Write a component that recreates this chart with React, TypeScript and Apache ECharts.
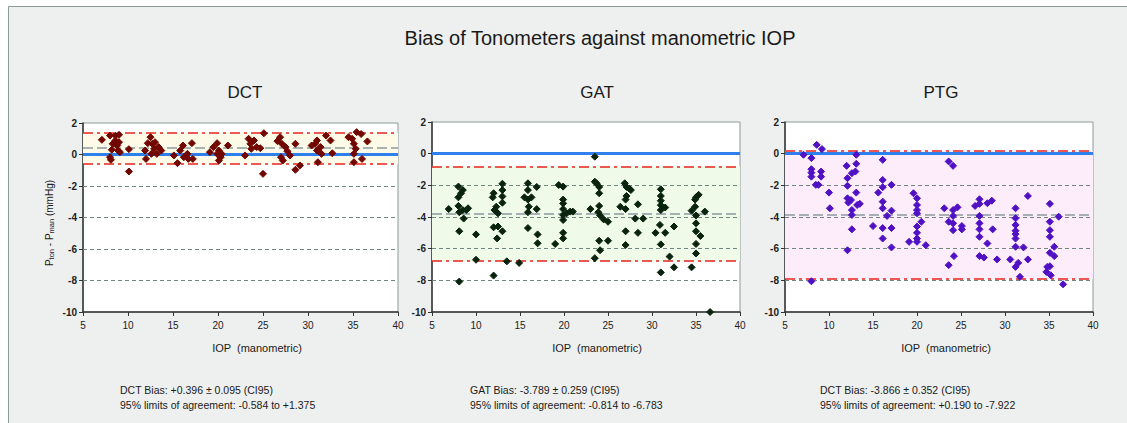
import React, { useEffect, useRef } from "react";
import * as echarts from "echarts";

const panelTitles = ["DCT", "GAT", "PTG"];
const xTicks = { min: 5, max: 40, interval: 5 };
const yTicks = { min: -10, max: 2, interval: 2 };
const gridLevels = [-2, -4, -6, -8];

// [bias, upper LOA, lower LOA]
const dctStats = [0.396, 1.375, -0.584];
const gatStats = [-3.789, -0.814, -6.783];
const ptgStats = [-3.866, 0.19, -7.922];

const dctPoints: [number, number][] = [
  [7.1, 0.93], [8.0, 1.2], [8.6, 1.2], [9.0, 1.25], [8.0, -0.17], [8.1, -0.34], [8.3, 0.68], [8.6, 0.89],
  [8.8, 0.57], [8.9, 0.25], [9.1, 0.15], [8.2, 0.3], [9.0, 0.78], [10.1, 0.34], [10.1, -1.08],
  [11.9, 0.25], [12.0, -0.28], [12.2, 0.72], [12.5, 1.1], [12.7, 0.68], [12.9, 0.36], [13.0, 0.78],
  [13.2, 0.04], [13.4, 0.47], [13.7, 0.25], [12.6, 0.04], [15.1, -0.06], [15.5, -0.55], [15.8, 0.25],
  [16.1, 0.57], [16.2, -0.17], [16.6, 0.04], [16.7, -0.28], [17.1, 0.72], [17.2, -0.28],
  [19.1, 0.15], [19.5, 0.47], [19.9, 0.72], [20.1, 0.25], [20.1, -0.38], [20.3, -0.17], [20.4, 0.04],
  [21.1, 0.57], [19.9, 0.04], [23.0, -0.06], [23.4, 1.0], [23.6, 0.68], [23.7, 0.36], [24.0, 0.89],
  [24.3, 0.47], [24.7, 0.4], [25.1, 1.35], [25.0, -1.23], [26.6, 0.85], [26.9, 1.1], [27.1, 0.68],
  [27.0, -0.17], [27.2, -0.38], [27.5, 0.47], [27.7, 0.21], [28.0, -0.06], [28.6, 0.68], [28.6, -0.97],
  [29.1, -0.7], [30.4, 0.57], [30.8, 0.68], [31.0, 0.89], [31.0, 0.25], [31.1, -0.49], [31.4, 0.47],
  [31.5, 0.04], [32.0, 1.2], [32.5, 0.89], [32.7, 0.08], [34.5, 1.1], [34.9, 1.0], [35.1, 0.68],
  [35.1, 0.04], [35.1, -0.49], [35.3, 0.36], [35.4, 1.42], [35.9, 1.3], [36.0, -0.28], [36.6, 0.83],
];

const gatPoints: [number, number][] = [
  [6.9, -3.5], [8.0, -2.08], [8.0, -2.76], [8.0, -3.3], [8.1, -4.9], [8.1, -3.7], [8.3, -2.5], [8.5, -2.3],
  [8.5, -3.56], [8.6, -4.1], [8.9, -3.56], [9.1, -3.45], [8.1, -8.08], [10.0, -5.1], [10.0, -6.7],
  [12.0, -2.5], [11.9, -2.76], [12.1, -3.56], [12.0, -4.65], [12.0, -7.7], [12.3, -3.35], [12.5, -3.77],
  [12.4, -5.35], [12.5, -4.6], [13.0, -4.9], [13.0, -1.9], [13.0, -2.3], [13.0, -2.7], [13.0, -3.1],
  [13.5, -6.8], [14.9, -6.9], [15.9, -1.87], [15.9, -2.3], [15.5, -2.76], [15.9, -2.9], [16.3, -2.76],
  [16.0, -3.35], [15.9, -3.7], [15.9, -4.7], [16.9, -2.1], [16.9, -3.5], [17.0, -5.1], [17.0, -5.66],
  [19.0, -5.7], [19.4, -1.98], [19.9, -2.08], [19.9, -2.9], [19.9, -3.14], [19.9, -3.5], [19.9, -3.87],
  [19.9, -4.19], [19.9, -5.0], [19.9, -5.35], [20.3, -3.77], [20.7, -3.66], [21.0, -3.66],
  [23.0, -3.5], [23.5, -0.19], [23.5, -1.77], [23.7, -1.87], [24.0, -2.1], [24.0, -2.5], [24.0, -3.3],
  [23.9, -3.7], [24.1, -3.9], [24.0, -5.5], [24.1, -6.1], [23.5, -6.6], [24.5, -4.15], [25.0, -4.3],
  [25.0, -5.5], [26.4, -3.35], [26.9, -1.87], [27.1, -2.1], [27.1, -2.67], [27.0, -2.9], [27.0, -3.5],
  [27.0, -4.9], [27.0, -5.77], [27.4, -2.2], [27.6, -2.3], [28.1, -4.1], [28.4, -3.2], [28.4, -5.0],
  [29.0, -4.1], [30.4, -5.0], [31.0, -2.25], [31.0, -2.67], [31.0, -2.97], [31.0, -3.25], [31.0, -3.56],
  [30.9, -4.5], [31.0, -5.73], [31.0, -7.5], [31.5, -3.4], [31.5, -5.0], [32.0, -6.5], [32.5, -4.6],
  [32.5, -7.18], [34.5, -3.6], [34.5, -7.18], [34.9, -2.9], [34.9, -3.35], [35.0, -2.76], [35.0, -3.9],
  [35.0, -4.4], [35.0, -4.9], [35.0, -5.7], [35.0, -6.3], [35.3, -2.6], [35.5, -5.2], [36.0, -3.66],
  [36.6, -10.0],
];

const ptgPoints: [number, number][] = [
  [7.1, -0.07], [8.0, -0.28], [8.0, -0.98], [8.0, -1.2], [8.0, -1.45], [8.5, -1.97], [8.8, -1.97],
  [8.6, 0.56], [9.2, 0.29], [9.1, -1.13], [9.1, -1.45], [8.0, -8.06], [10.0, -2.46], [10.1, -3.45],
  [12.0, -0.77], [12.1, -1.55], [12.1, -2.03], [12.1, -2.82], [12.2, -3.09], [12.1, -6.1], [12.5, -2.93],
  [12.6, -1.23], [12.6, -3.56], [12.6, -3.87], [12.6, -4.78], [13.0, -1.13], [13.1, -0.64], [13.1, -0.07],
  [13.1, -2.46], [13.2, -3.24], [13.5, -3.17], [15.0, -4.57], [15.6, -2.46], [16.1, -0.39], [16.1, -1.66],
  [16.1, -2.12], [16.1, -3.03], [16.1, -3.45], [16.1, -4.7], [16.1, -5.36], [16.6, -3.93], [17.1, -1.97],
  [17.1, -3.6], [17.1, -4.7], [17.1, -5.92], [19.1, -5.57], [19.6, -2.5], [20.0, -2.82], [20.0, -3.24],
  [20.0, -3.56], [20.0, -3.77], [20.0, -4.6], [20.0, -5.0], [20.0, -5.36], [20.0, -5.57], [20.5, -4.3],
  [21.0, -5.78], [23.1, -3.45], [23.6, -7.04], [23.6, -0.49], [24.1, -0.77], [23.6, -4.3], [24.1, -3.56],
  [24.1, -3.93], [24.1, -4.4], [24.1, -4.83], [24.2, -6.47], [24.6, -3.39], [25.1, -4.57], [25.1, -4.78],
  [26.6, -3.3], [27.1, -2.88], [27.1, -3.17], [27.1, -3.93], [27.1, -4.4], [27.1, -4.78], [27.1, -5.25],
  [27.1, -6.47], [27.6, -6.56], [28.0, -3.13], [28.5, -2.97], [28.0, -5.67], [28.6, -4.78], [29.1, -6.68],
  [30.6, -6.68], [31.2, -3.45], [31.2, -4.08], [31.2, -4.5], [31.2, -4.87], [31.2, -5.08], [31.2, -5.36],
  [31.2, -5.88], [31.2, -7.15], [31.5, -6.9], [31.7, -7.78], [32.1, -5.92], [32.6, -2.67], [32.6, -6.68],
  [35.1, -3.17], [35.1, -4.3], [35.1, -4.83], [35.1, -5.25], [35.1, -6.26], [35.1, -7.11], [34.8, -7.15],
  [34.7, -7.47], [35.2, -7.68], [35.6, -6.47], [35.6, -5.88], [36.1, -3.98], [36.6, -8.25],
];

const statTexts = [
  ["DCT Bias: +0.396 \u00b1 0.095 (CI95)", "95% limits of agreement: -0.584 to +1.375"],
  ["GAT Bias: -3.789 \u00b1 0.259 (CI95)", "95% limits of agreement: -0.814 to -6.783"],
  ["DCT Bias: -3.866 \u00b1 0.352 (CI95)", "95% limits of agreement: +0.190 to -7.922"],
];

const mainTitle = "Bias of Tonometers against manometric IOP";
const xName = "IOP  (manometric)";

export default function App() {
  const ref = useRef<HTMLDivElement>(null);
  useEffect(() => {
    document.body.style.margin = "0";
    if (!ref.current) return;
    const chart = echarts.init(ref.current, undefined, { renderer: "svg" });

    const grids = [
      { left: 83, top: 123, width: 315, height: 189 },
      { left: 432, top: 122, width: 308, height: 190 },
      { left: 785, top: 122, width: 308, height: 190 },
    ];
    const colors = ["#720600", "#0a230e", "#5010c4"];
    const bands = ["#fdfbe8", "#effbe8", "#fdecf9"];
    const stats = [dctStats, gatStats, ptgStats];
    const pts = [dctPoints, gatPoints, ptgPoints];
    const titleX = [245, 597, 941];
    const xNameX = [257, 597, 946];
    const statX = [120, 470, 820];
    const font = "Liberation Sans, Arial, sans-serif";

    const series: any[] = [];
    pts.forEach((p, i) => {
      const [bias, up, lo] = stats[i];
      series.push({
        type: "scatter",
        xAxisIndex: i,
        yAxisIndex: i,
        data: p,
        symbol: "diamond",
        symbolSize: 7,
        itemStyle: { color: colors[i], borderColor: colors[i], borderWidth: 1, opacity: 1 },
        z: 5,
        markArea: {
          silent: true,
          itemStyle: { color: bands[i] },
          data: [[{ yAxis: up }, { yAxis: lo }]],
        },
        markLine: {
          silent: true,
          symbol: "none",
          label: { show: false },
          data: [
            ...gridLevels.map((g) => ({ yAxis: g, lineStyle: { color: "#6f8580", width: 1, type: [4, 3] } })),
            { yAxis: bias, lineStyle: { color: "#8a9a9e", width: 1.5, type: [10, 4] } },
            { yAxis: 0, lineStyle: { color: "#2f80ec", width: 3, type: "solid" } },
            { yAxis: up, lineStyle: { color: "#e8231c", width: 1.5, type: [10, 4, 3, 4] } },
            { yAxis: lo, lineStyle: { color: "#e8231c", width: 1.5, type: [10, 4, 3, 4] } },
          ],
        },
      });
    });

    const graphic: any[] = [
      {
        type: "rect",
        shape: { x: 8.5, y: 6.5, width: 1130, height: 430 },
        style: { fill: "#eef0ef", stroke: "#8c9a9a", lineWidth: 1 },
        z: -10,
      },
      {
        type: "text",
        x: 600,
        y: 38,
        style: { text: mainTitle, fontSize: 20, fontFamily: font, fill: "#1a1a1a", textAlign: "center", textVerticalAlign: "middle" },
      },
    ];
    panelTitles.forEach((t, i) => {
      graphic.push({
        type: "text",
        x: titleX[i],
        y: 92,
        style: { text: t, fontSize: 17, fontFamily: font, fill: "#1a1a1a", textAlign: "center", textVerticalAlign: "middle" },
      });
      graphic.push({
        type: "text",
        x: xNameX[i],
        y: 348,
        style: { text: xName, fontSize: 11, fontFamily: font, fill: "#1a1a1a", textAlign: "center", textVerticalAlign: "middle" },
      });
      graphic.push({
        type: "text",
        x: statX[i],
        y: 390,
        style: { text: statTexts[i][0], fontSize: 10.5, fontFamily: font, fill: "#1a1a1a", textVerticalAlign: "middle" },
      });
      graphic.push({
        type: "text",
        x: statX[i],
        y: 405,
        style: { text: statTexts[i][1], fontSize: 10.5, fontFamily: font, fill: "#1a1a1a", textVerticalAlign: "middle" },
      });
    });
    graphic.push({
      type: "text",
      x: 49,
      y: 223,
      rotation: Math.PI / 2,
      style: {
        text: "{n|P}{s|ton}{n| - P}{s|man}{n| (mmHg)}",
        rich: {
          n: { fontSize: 10, fontFamily: font, fill: "#1a1a1a" },
          s: { fontSize: 7.5, fontFamily: font, fill: "#1a1a1a", verticalAlign: "bottom", padding: [5, 0, 0, 0] },
        },
        textAlign: "center",
        textVerticalAlign: "middle",
      },
    });

    chart.setOption({
      animation: false,
      backgroundColor: "#ffffff",
      grid: grids.map((g) => ({ ...g, show: true, backgroundColor: "#ffffff", borderColor: "#8c9a9a", borderWidth: 1 })),
      xAxis: grids.map((_, i) => ({
        type: "value",
        gridIndex: i,
        ...xTicks,
        axisLine: { show: true, onZero: false, lineStyle: { color: "#333", width: 1.5 } },
        axisTick: { show: true, length: 4, lineStyle: { color: "#333" } },
        axisLabel: { fontSize: 10, color: "#222", fontFamily: font, margin: 8 },
        splitLine: { show: false },
      })),
      yAxis: grids.map((_, i) => ({
        type: "value",
        gridIndex: i,
        ...yTicks,
        axisLine: { show: true, onZero: false, lineStyle: { color: "#333", width: 1.5 } },
        axisTick: { show: true, length: 4, lineStyle: { color: "#333" } },
        axisLabel: { fontSize: 10, color: "#222", fontFamily: font, fontWeight: "bold", margin: 6 },
        splitLine: { show: false },
      })),
      series,
      graphic,
    });
    return () => chart.dispose();
  }, []);
  return <div ref={ref} style={{ width: 1127, height: 423 }} />;
}
